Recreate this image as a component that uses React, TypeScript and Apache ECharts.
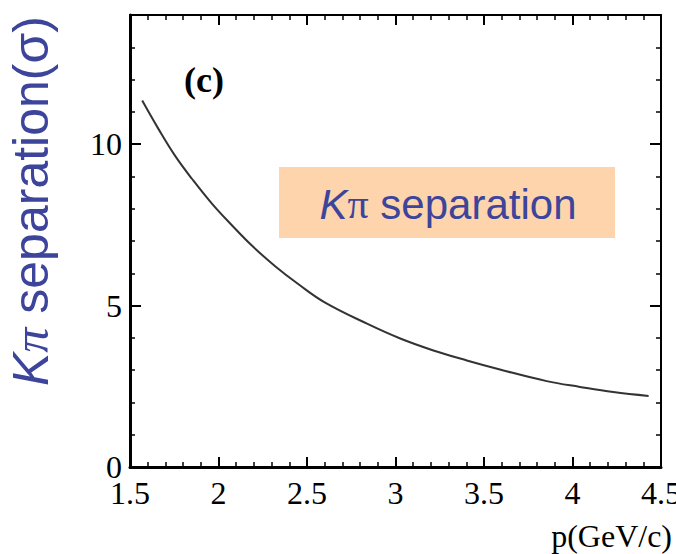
import React, { useEffect, useRef } from "react";
import * as echarts from "echarts";

const momentum = [1.569, 1.663, 1.757, 1.851, 1.964, 2.077, 2.19, 2.32, 2.452, 2.6, 2.839, 3.027, 3.214, 3.403, 3.59, 3.854, 4.042, 4.23, 4.43];
const separation = [11.35, 10.45, 9.62, 8.92, 8.15, 7.48, 6.85, 6.22, 5.66, 5.1, 4.44, 3.98, 3.61, 3.3, 3.02, 2.66, 2.48, 2.32, 2.2];
const xRange = [1.5, 4.5];
const yRange = [0, 14];
const yLabelTicks = [0, 5, 10];

const SERIF = "'Liberation Serif', 'DejaVu Serif', serif";
const SANS = "'Liberation Sans', Arial, sans-serif";
const BLUE = "#3c449c";

export default function App() {
  const ref = useRef<HTMLDivElement>(null);
  useEffect(() => {
    if (!ref.current) return;
    const chart = echarts.init(ref.current, null, { renderer: "svg" });
    const xBase = (pos: string, show: boolean, lineW: number) => ({
      type: "value",
      position: pos,
      min: xRange[0],
      max: xRange[1],
      interval: 0.5,
      axisLine: { show: true, onZero: false, lineStyle: { color: "#000", width: lineW } },
      axisTick: { show: true, inside: true, length: 10, lineStyle: { color: "#000", width: 2 } },
      minorTick: { show: true, splitNumber: 5, length: 5, lineStyle: { color: "#000", width: 1.5 } },
      splitLine: { show: false },
      minorSplitLine: { show: false },
      axisLabel: { show, color: "#000", fontFamily: SERIF, fontSize: 32, margin: 10 },
    });
    const yMajor = (pos: string, show: boolean, lineW: number) => ({
      type: "value",
      position: pos,
      min: yRange[0],
      max: yRange[1],
      interval: 5,
      axisLine: { show: true, onZero: false, lineStyle: { color: "#000", width: lineW } },
      axisTick: { show: true, inside: true, length: 11, lineStyle: { color: "#000", width: 2 } },
      splitLine: { show: false },
      axisLabel: {
        show,
        color: "#000",
        fontFamily: SERIF,
        fontSize: 32,
        margin: 8,
        formatter: (v: number) => (yLabelTicks.includes(v) ? String(v) : ""),
      },
    });
    const yMinor = (pos: string) => ({
      type: "value",
      position: pos,
      min: yRange[0],
      max: yRange[1],
      interval: 1,
      axisLine: { show: false },
      axisTick: { show: true, inside: true, length: 5, lineStyle: { color: "#000", width: 1.5 } },
      splitLine: { show: false },
      axisLabel: { show: false },
    });
    chart.setOption({
      animation: false,
      backgroundColor: "#fff",
      grid: { left: 130, right: 15, top: 15, bottom: 87, containLabel: false, outerBoundsMode: "none" },
      xAxis: [xBase("bottom", true, 3), xBase("top", false, 2)],
      yAxis: [yMajor("left", true, 3), yMinor("left"), yMajor("right", false, 2), yMinor("right")],
      series: [
        {
          type: "line",
          xAxisIndex: 0,
          yAxisIndex: 0,
          data: momentum.map((x, i) => [x, separation[i]]),
          smooth: 0.4,
          showSymbol: false,
          lineStyle: { color: "#333", width: 2 },
        },
      ],
      graphic: [
        {
          type: "text",
          x: 31,
          y: 201,
          rotation: Math.PI / 2,
          style: {
            text: "{k|K}{p|π}{s| separation(σ)}",
            align: "center",
            verticalAlign: "middle",
            rich: {
              k: { fontFamily: SANS, fontStyle: "italic", fontSize: 50, fill: BLUE },
              p: { fontFamily: SERIF, fontStyle: "italic", fontSize: 50, fill: BLUE },
              s: { fontFamily: SANS, fontSize: 50, fill: BLUE },
            },
          },
        },
        {
          type: "text",
          x: 184,
          y: 62,
          style: { text: "(c)", fontFamily: SERIF, fontWeight: "bold", fontSize: 36, fill: "#000" },
        },
        {
          type: "rect",
          shape: { x: 279, y: 167, width: 336, height: 71 },
          style: { fill: "#fdd4ab" },
        },
        {
          type: "text",
          x: 448,
          y: 204,
          style: {
            text: "{k|K}{p|π}{s| separation}",
            align: "center",
            verticalAlign: "middle",
            rich: {
              k: { fontFamily: SANS, fontStyle: "italic", fontSize: 42, fill: BLUE },
              p: { fontFamily: SERIF, fontSize: 42, fill: BLUE },
              s: { fontFamily: SANS, fontSize: 42, fill: BLUE },
            },
          },
        },
        {
          type: "text",
          x: 672,
          y: 520,
          style: { text: "p(GeV/c)", align: "right", fontFamily: SERIF, fontSize: 32, fill: "#000" },
        },
      ],
    });
    return () => chart.dispose();
  }, []);
  return <div ref={ref} style={{ position: "fixed", left: 0, top: 0, width: 676, height: 554 }} />;
}
